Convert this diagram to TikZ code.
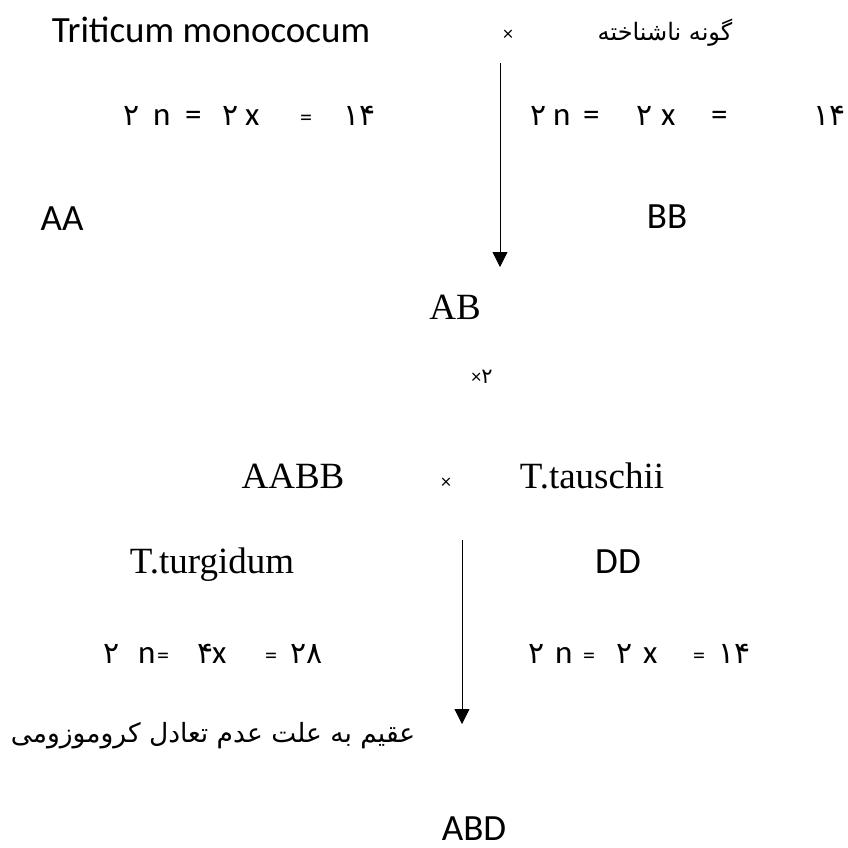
\documentclass[tikz,border=0pt]{standalone}
\usepackage{fontspec}
\setmainfont{Carlito}
\newfontfamily\timesfont{Liberation Serif}
\newfontfamily\farsi[Script=Arabic]{DejaVu Sans}
\TeXXeTstate=1
\usetikzlibrary{arrows.meta}

% one glyph group at a fixed offset inside a formula
\newcommand{\putat}[2]{\makebox[0pt][l]{\hspace*{#1pt}#2}}
\newcommand{\fd}[1]{{\farsi\fontsize{30}{32}\selectfont #1}}
\newcommand{\smeq}{{\fontsize{24}{26}\selectfont =}}

\begin{document}
\begin{tikzpicture}[x=1pt, y=-1pt,
    lbl/.style={inner sep=0pt, anchor=base, font=\fontsize{37}{40}\selectfont},
    tnr/.style={inner sep=0pt, anchor=base, font=\timesfont\fontsize{37}{40}\selectfont},
    fatext/.style={inner sep=0pt, anchor=base, font=\farsi\fontsize{#1}{#1}\selectfont},
    cross/.style={inner sep=0pt, font=\fontsize{20}{22}\selectfont},
    formula/.style={inner sep=0pt, anchor=base west, font=\fontsize{33}{36}\selectfont},
    arr/.style={-{Triangle[length=15pt,width=15pt]}, line width=0.8pt}]

    \useasboundingbox (0,0) rectangle (848,847);

    % first cross
    \node[lbl] (mono) at (211,42) {Triticum monococum};
    \node[cross] (crossA) at (508,35) {×};
    \node[fatext=24] (unknown) at (665,40) {\beginR گونه ناشناخته\endR};

    \node[formula] (chromA) at (123,125) {\putat{0}{\fd{۲}}\putat{30}{n}\putat{62}{=}\putat{99}{\fd{۲}}\putat{122}{x}\putat{177}{\smeq}\putat{220}{\fd{۱۴}}\hspace*{244pt}};
    \node[formula] (chromB) at (530,125) {\putat{0}{\fd{۲}}\putat{23}{n}\putat{53}{=}\putat{106}{\fd{۲}}\putat{131}{x}\putat{181}{=}\putat{283}{\fd{۱۴}}\hspace*{306pt}};

    \node[lbl] (gA) at (62,230) {AA};
    \node[lbl] (gB) at (667,228) {BB};

    \coordinate (arrAtop) at (500,63);
    \coordinate (arrAtip) at (500,267);
    \draw[arr] (arrAtop) -- (arrAtip);

    \node[tnr] (hyb) at (455,319) {AB};
    \node[inner sep=0pt, anchor=base] (dbl) at (482,383) {{\fontsize{20}{22}\selectfont ×}{\farsi\fontsize{21}{22}\selectfont ۲}};

    % second cross
    \node[tnr] (tetra) at (293,488) {AABB};
    \node[cross] (crossB) at (446,483) {×};
    \node[tnr] (taus) at (592,488) {T.tauschii};

    \node[tnr] (turg) at (212,573) {T.turgidum};
    \node[lbl] (gD) at (618,573) {DD};

    \node[formula] (chromC) at (103,663) {\putat{0}{\fd{۲}}\putat{35}{n}\putat{54}{\smeq}\putat{94}{\fd{۴}}\putat{109}{x}\putat{162}{\smeq}\putat{187}{\fd{۲۸}}\hspace*{219pt}};
    \node[formula] (chromD) at (528,663) {\putat{0}{\fd{۲}}\putat{27}{n}\putat{55}{\smeq}\putat{88}{\fd{۲}}\putat{115}{x}\putat{165}{\smeq}\putat{190}{\fd{۱۴}}\hspace*{222pt}};

    \coordinate (arrBtop) at (462,540);
    \coordinate (arrBtip) at (462,724);
    \draw[arr] (arrBtop) -- (arrBtip);

    \node[fatext=26.5] (sterile) at (213,742) {\beginR عقیم به علت عدم تعادل کروموزومی\endR};

    \node[lbl] (hexa) at (474,840) {ABD};

\end{tikzpicture}
\end{document}
